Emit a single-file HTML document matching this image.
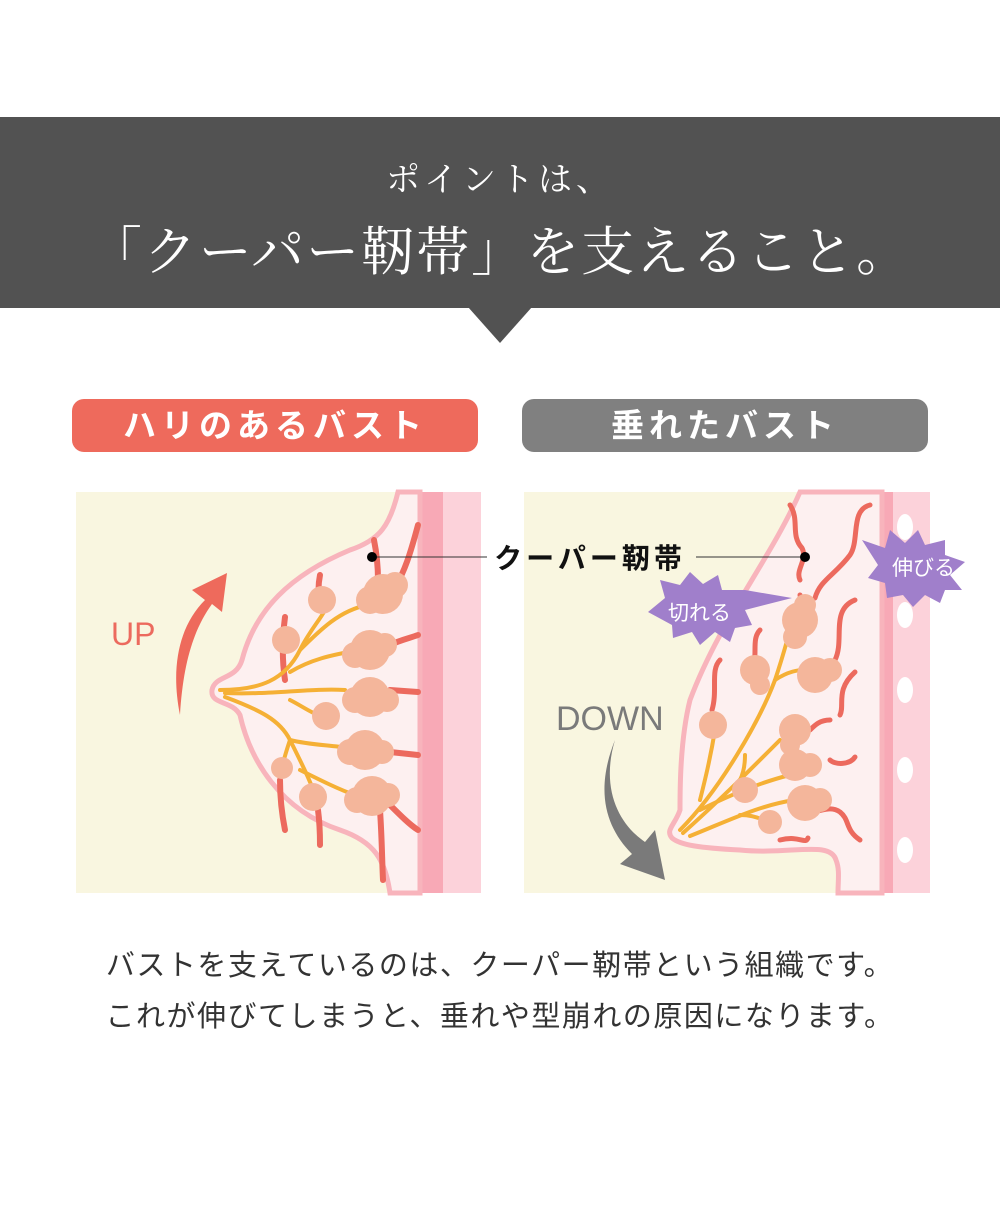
<!DOCTYPE html>
<html><head><meta charset="utf-8"><style>
html,body{margin:0;padding:0;background:#fff;width:1008px;height:1210px;overflow:hidden}
body{position:relative;font-family:"Liberation Sans","Noto Sans CJK JP",sans-serif}
.band{position:absolute;left:0;top:117px;width:1000px;height:191px;background:#525252}
.tri{position:absolute;left:468px;top:307px;width:0;height:0;border-left:32px solid transparent;border-right:32px solid transparent;border-top:36px solid #525252}
.t1{position:absolute;left:0;width:1000px;top:152px;text-align:center;color:#fff;font-family:"Noto Serif CJK JP","Noto Serif CJK SC",serif;font-size:34px;letter-spacing:4px}
.t2{position:absolute;left:0;width:1000px;top:210px;text-align:center;color:#fff;font-family:"Noto Serif CJK JP","Noto Serif CJK SC",serif;font-size:53px;letter-spacing:2px;white-space:nowrap}
.pill{position:absolute;top:399px;height:53px;width:406px;border-radius:12px;color:#fff;font-weight:bold;font-size:33px;line-height:53px;text-align:center;letter-spacing:5px}
.body{position:absolute;left:0;width:1000px;text-align:center;color:#333;font-size:29px;letter-spacing:1.5px;white-space:nowrap}
</style></head><body>
<div class="band"></div><div class="tri"></div>
<div class="t1">ポイントは、</div>
<div class="t2">「クーパー靭帯」を支えること。</div>
<div class="pill" style="left:72px;background:#ee6a5c">ハリのあるバスト</div>
<div class="pill" style="left:522px;background:#808080">垂れたバスト</div>

<svg style="position:absolute;left:0;top:0" width="1008" height="1210">
<rect x="76" y="492" width="405" height="401" fill="#f9f6e0"/>
<rect x="418" y="492" width="63" height="401" fill="#f8a9b6"/>
<rect x="443" y="492" width="38" height="401" fill="#fcd2da"/>
<path d="M398,492 C390,525 380,540 350,550 C290,575 255,610 242,660 C236,680 215,675 212,690 C210,705 232,700 240,715 C250,760 280,810 340,830 C375,842 385,860 390,893 L420,893 L420,492 Z" fill="#fdf0f0" stroke="#f8b4bc" stroke-width="5"/>
<g stroke="#ec6a5e" stroke-width="6" fill="none" stroke-linecap="round">
<path d="M374,540 C377,555 378,570 378,580"/><path d="M395,588 C405,570 410,555 418,525"/>
<path d="M320,575 C318,585 318,595 320,605"/><path d="M285,617 C282,640 282,660 285,680"/>
<path d="M390,645 C400,640 410,638 418,635"/><path d="M390,690 L418,692"/><path d="M390,752 L418,755"/>
<path d="M390,805 C400,815 410,825 418,830"/><path d="M380,810 C382,840 382,860 383,880"/>
<path d="M280,780 C280,800 282,815 285,830"/><path d="M318,810 C320,825 320,835 320,845"/>
</g>
<g stroke="#f5b035" stroke-width="4" fill="none" stroke-linecap="round">
<path d="M220,690 C260,690 285,680 300,650 C310,630 320,620 325,610"/>
<path d="M300,650 C320,630 340,610 368,605"/>
<path d="M290,672 C310,660 330,655 360,650"/>
<path d="M225,693 C270,695 310,688 345,690"/>
<path d="M290,700 C300,705 310,712 318,715"/>
<path d="M225,697 C260,710 280,720 290,740 C300,760 310,780 315,795"/>
<path d="M290,740 C310,745 330,745 348,748"/>
<path d="M300,770 C320,780 340,790 355,795"/>
<path d="M290,740 C285,755 282,765 282,770"/>
</g>
<g fill="#f4b69b">
<circle cx="383" cy="594" r="20"/><circle cx="370" cy="600" r="14"/><circle cx="395" cy="585" r="13"/>
<circle cx="322" cy="600" r="14"/><circle cx="286" cy="640" r="14"/>
<circle cx="370" cy="650" r="20"/><circle cx="355" cy="655" r="13"/><circle cx="385" cy="645" r="12"/>
<circle cx="370" cy="697" r="20"/><circle cx="355" cy="700" r="13"/><circle cx="387" cy="700" r="12"/>
<circle cx="326" cy="716" r="14"/>
<circle cx="365" cy="750" r="20"/><circle cx="350" cy="752" r="13"/><circle cx="382" cy="752" r="12"/>
<circle cx="282" cy="768" r="11"/>
<circle cx="372" cy="796" r="20"/><circle cx="357" cy="800" r="13"/><circle cx="388" cy="795" r="12"/>
<circle cx="313" cy="797" r="14"/>
</g>
<path d="M180,715 C170,665 180,625 205,600 L192,590 L227,573 L222,612 L212,604 C193,630 183,665 180,715 Z" fill="#ee6a5c"/>
<text x="111" y="645" font-size="32" fill="#ec6a5e" font-family="Liberation Sans,sans-serif">UP</text>
<rect x="524" y="492" width="406" height="401" fill="#f9f6e0"/>
<rect x="880" y="492" width="50" height="401" fill="#f8a9b6"/>
<rect x="893" y="492" width="37" height="401" fill="#fcd2da"/>
<g fill="#fff"><ellipse cx="905" cy="527" rx="8" ry="13"/><ellipse cx="905" cy="615" rx="8" ry="13"/><ellipse cx="905" cy="690" rx="8" ry="13"/><ellipse cx="905" cy="770" rx="8" ry="13"/><ellipse cx="905" cy="850" rx="8" ry="13"/></g>
<path d="M800,492 C770,560 720,620 690,700 C680,740 680,790 680,810 C675,825 665,830 672,838 C680,845 700,848 740,850 C790,855 830,840 836,860 C840,870 838,880 838,893 L882,893 L882,492 Z" fill="#fdf0f0" stroke="#f8b4bc" stroke-width="5"/>
<g stroke="#ec6a5e" stroke-width="5" fill="none" stroke-linecap="round">
<path d="M790,505 C800,520 790,535 802,548 C808,560 795,570 800,580"/><path d="M800,595 L802,605"/>
<path d="M870,505 C850,510 860,540 850,555 C835,575 820,580 815,598"/>
<path d="M855,600 C830,610 845,640 835,660 C825,675 820,670 812,680"/>
<path d="M855,672 C835,690 845,705 840,715"/><path d="M830,720 C820,720 815,725 810,730"/>
<path d="M855,757 C850,765 835,765 830,760"/><path d="M815,760 L808,763"/>
<path d="M860,840 C845,830 850,820 840,812 C830,805 820,812 810,812"/>
<path d="M780,840 C800,835 805,845 808,838"/>
<path d="M720,660 C710,670 718,690 712,710"/><path d="M760,630 C750,640 760,660 750,670"/>
</g>
<g stroke="#f5b035" stroke-width="4" fill="none" stroke-linecap="round">
<path d="M680,830 C720,790 760,720 775,680 C785,650 790,630 795,610"/>
<path d="M775,680 C790,670 800,670 815,668"/>
<path d="M683,833 C720,800 750,770 780,740"/><path d="M700,810 C740,790 770,780 790,775"/>
<path d="M690,836 C730,820 760,805 795,800"/><path d="M700,800 C705,780 710,760 715,730"/>
<path d="M740,780 C745,770 745,760 745,755"/><path d="M740,815 C755,815 765,820 772,825"/>
</g>
<g fill="#f4b69b">
<circle cx="800" cy="620" r="18"/><circle cx="795" cy="637" r="12"/><circle cx="805" cy="605" r="11"/>
<circle cx="755" cy="670" r="15"/><circle cx="760" cy="685" r="10"/>
<circle cx="815" cy="675" r="18"/><circle cx="830" cy="670" r="12"/>
<circle cx="713" cy="725" r="14"/><circle cx="795" cy="730" r="16"/><circle cx="790" cy="745" r="10"/>
<circle cx="795" cy="765" r="16"/><circle cx="810" cy="765" r="12"/>
<circle cx="745" cy="790" r="13"/><circle cx="805" cy="803" r="18"/><circle cx="820" cy="800" r="12"/>
<circle cx="770" cy="822" r="12"/>
</g>
<path d="M615,740 C600,790 620,825 645,842 L655,830 L665,880 L620,864 L632,854 C605,827 595,790 615,740 Z" fill="#7a7a7a"/>
<text x="556" y="730" font-size="34" fill="#7a7a7a" font-family="Liberation Sans,sans-serif">DOWN</text>
<polygon points="648,612 665,598 660,580 680,585 690,572 703,584 718,575 722,590 745,590 792,598 745,610 752,625 735,628 730,642 715,632 700,645 692,632 673,638 672,625" fill="#a07fcb"/>
<text x="668" y="620" font-size="21" fill="#fff">切れる</text>
<polygon points="862,540 885,548 890,530 905,543 918,530 925,545 945,540 945,555 965,562 950,575 962,590 945,590 940,603 925,595 913,607 903,595 887,598 885,583 868,578 878,565" fill="#a07fcb"/>
<text x="892" y="575" font-size="21" fill="#fff">伸びる</text>
<line x1="372" y1="557" x2="487" y2="557" stroke="#333" stroke-width="1"/>
<line x1="696" y1="557" x2="805" y2="557" stroke="#333" stroke-width="1"/>
<circle cx="372" cy="557" r="5" fill="#000"/><circle cx="805" cy="557" r="5" fill="#000"/>
<text x="590" y="568" text-anchor="middle" font-size="28" font-weight="bold" fill="#111" letter-spacing="4">クーパー靭帯</text>
</svg>
<div class="body" style="top:942px">バストを支えているのは、クーパー靭帯という組織です。</div>
<div class="body" style="top:993px">これが伸びてしまうと、垂れや型崩れの原因になります。</div>
</body></html>
